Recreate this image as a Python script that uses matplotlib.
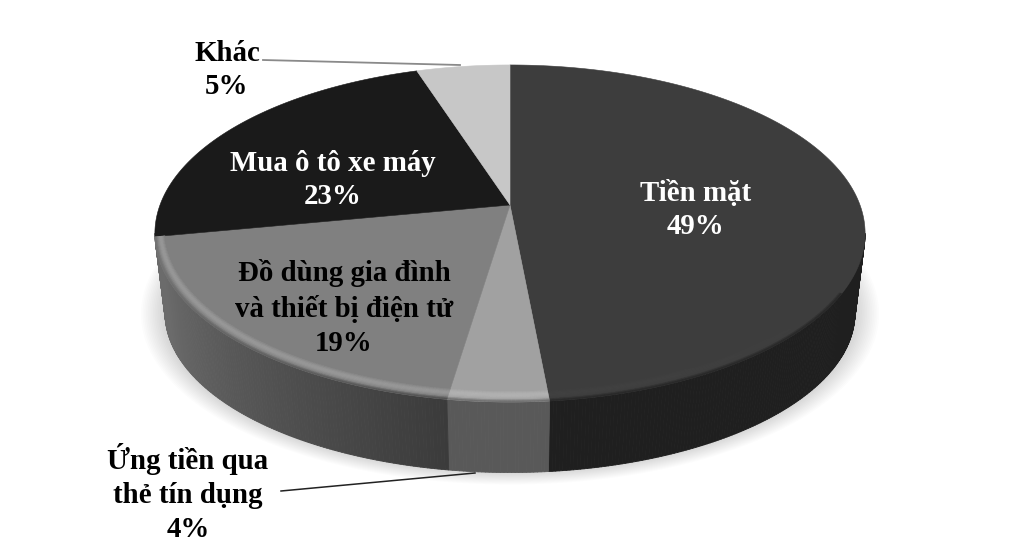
import numpy as np
import matplotlib
matplotlib.use('Agg')
import matplotlib.pyplot as plt
from matplotlib.collections import PolyCollection

plt.rcParams['font.family'] = ['Liberation Serif', 'DejaVu Serif']

# slices clockwise from 12 o'clock, sizes
categories = ['Tiền mặt', 'Ứng tiền qua\nthẻ tín dụng', 'Đồ dùng gia đình\nvà thiết bị điện tử',
              'Mua ô tô xe máy', 'Khác']
percent_labels = ['49%', '4%', '19%', '23%', '5%']
slice_sizes = [48.5, 3.9, 19.6, 23.0, 5.0]

top_grey = [0.24, 0.63, 0.50, 0.10, 0.78]
side_grey_front = [0.12, 0.35, 0.23, 0.42, 0.5]
side_grey_back = [0.08, 0.35, 0.42, 0.42, 0.5]
rim_gain = [0.015, 0.07, 0.10, 0.0, 0.0]

# pie geometry, pixels
CX, CY = 510, 205
TOP_A, TOP_B = 350, 163.7
BOT_A, BOT_B, BOT_DY = 340, 155, 81
PERSP = 0.169
# where the outline turns from the top ellipse onto the wall
WALL_FROM, WALL_TO = 99.7, 260.3


def project(theta, r=1.0, a=TOP_A, b=TOP_B, dy=0.0):
    # theta in degrees clockwise from the top of the disc
    t = np.radians(theta)
    x = r * np.sin(t)
    y = r * np.cos(t)
    w = 1 + PERSP * y
    return np.column_stack([CX + a * x / w, CY + dy - b * y / w])


def grey(v):
    v = min(max(v, 0), 1)
    return (v, v, v)


fig = plt.figure(figsize=(10.2, 5.59), dpi=100)
ax = fig.add_axes([0, 0, 1, 1])
ax.set_xlim(0, 1020)
ax.set_ylim(559, 0)
ax.axis('off')

edges = np.concatenate([[0], np.cumsum(slice_sizes)]) / sum(slice_sizes) * 360

# soft shadow under the pie
circle = np.linspace(0, 360, 361)
for i in range(14):
    scale = 1.07 - i * 0.005
    outline = project(circle, a=BOT_A * scale, b=BOT_B * scale, dy=BOT_DY - 1)
    ax.fill(outline[:, 0], outline[:, 1], color='black', alpha=0.012, lw=0, zorder=1)

# side wall, strip by strip
polys, cols = [], []
for k in range(len(slice_sizes)):
    lo, hi = max(edges[k], WALL_FROM), min(edges[k + 1], WALL_TO)
    if hi <= lo:
        continue
    steps = np.linspace(lo, hi, max(2, int((hi - lo) * 2)))
    for t0, t1 in zip(steps[:-1], steps[1:]):
        f = np.clip((t0 - 188) / 60, 0, 1)
        a_top = project(np.array([t0, t1]))
        a_bot = project(np.array([t1, t0]), a=BOT_A, b=BOT_B, dy=BOT_DY)
        polys.append(np.vstack([a_top, a_bot]))
        cols.append(grey(side_grey_front[k] + f * (side_grey_back[k] - side_grey_front[k])))
ax.add_collection(PolyCollection(polys, facecolors=cols, edgecolors=cols, linewidths=0.6, zorder=2))

# top face
for k in range(len(slice_sizes)):
    arc = project(np.linspace(edges[k], edges[k + 1], 200))
    pts = np.vstack([[CX, CY], arc])
    ax.fill(pts[:, 0], pts[:, 1], color=grey(top_grey[k]), lw=0.4, zorder=3)

# bevelled rim along the front edge
polys, cols = [], []
layers = 10
for k in range(3):
    lo, hi = max(edges[k], WALL_FROM + 20), min(edges[k + 1], WALL_TO - 1)
    if hi <= lo:
        continue
    steps = np.linspace(lo, hi, max(2, int((hi - lo) * 2)))
    for t0, t1 in zip(steps[:-1], steps[1:]):
        c = abs(np.cos(np.radians(t0)))
        width = 0.022 + 0.028 * c
        fade = np.clip((t0 - WALL_FROM - 20) / 40, 0, 1)
        for j in range(layers):
            u = j / layers
            r0 = 1 - width * (1 - u)
            r1 = 1 - width * (1 - (j + 1) / layers)
            v = top_grey[k] + np.sin(np.pi * min(u / 0.75, 1)) * rim_gain[k] * fade
            if u > 0.7:
                back = side_grey_front[k] + np.clip((t0 - 188) / 60, 0, 1) * (side_grey_back[k] - side_grey_front[k])
                v = v + (u - 0.7) / 0.3 * (back - v)
            polys.append(np.vstack([project(np.array([t0, t1]), r=r0),
                                    project(np.array([t1, t0]), r=r1)]))
            cols.append(grey(v))
ax.add_collection(PolyCollection(polys, facecolors=cols, edgecolors=cols, linewidths=0.3, zorder=4))

# leader lines
ax.plot([263, 460], [60, 65], color='#8a8a8a', lw=1.3, zorder=5)
ax.plot([281, 475], [491, 473], color='#222222', lw=1.1, zorder=5)

# labels
label_xy = [(696, 210), (188, 493), (344, 308), (333, 180), (227, 70)]
label_colors = ['white', 'black', 'black', 'white', 'black']
for cat, pct, xy, c in zip(categories, percent_labels, label_xy, label_colors):
    ax.text(xy[0], xy[1], cat + '\n' + pct, ha='center', va='center', color=c,
            fontsize=20.8, fontweight='bold', linespacing=1.33, zorder=6)

fig.savefig('out.png', dpi=100)
